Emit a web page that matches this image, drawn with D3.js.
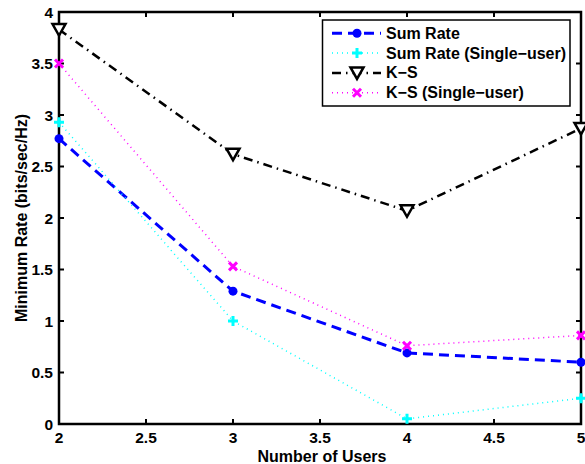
<!DOCTYPE html>
<html><head><meta charset="utf-8">
<script src="https://cdn.jsdelivr.net/npm/d3@7"></script>
<style>body{margin:0;background:#fff;}svg{display:block;font-family:"Liberation Sans",Arial,sans-serif;font-weight:bold;}</style>
</head><body>
<script>
const users = [2, 3, 4, 5];
const sumRate = [2.77, 1.29, 0.69, 0.60];
const sumRateSingle = [2.93, 1.00, 0.05, 0.25];
const ks = [3.83, 2.62, 2.07, 2.87];
const ksSingle = [3.50, 1.53, 0.76, 0.86];
const xTicks = [2, 2.5, 3, 3.5, 4, 4.5, 5];
const yTicks = [0, 0.5, 1, 1.5, 2, 2.5, 3, 3.5, 4];
const seriesNames = ["Sum Rate", "Sum Rate (Single\u2212user)", "K\u2212S", "K\u2212S (Single\u2212user)"];

const W = 585, H = 464;
const L = 59, R = 581, T = 12, B = 424;
const svg = d3.select("body").append("svg").attr("width", W).attr("height", H);
const x = d3.scaleLinear().domain([2, 5]).range([L, R]);
const y = d3.scaleLinear().domain([0, 4]).range([B, T]);

const series = [
  {name: seriesNames[0], vals: sumRate, color: "#0000ff", width: 3, dash: "10,6", marker: "circle"},
  {name: seriesNames[1], vals: sumRateSingle, color: "#00ffff", width: 1.5, dash: "1,4", marker: "plus"},
  {name: seriesNames[2], vals: ks, color: "#000000", width: 2.5, dash: "9,5,1.5,5", marker: "tri"},
  {name: seriesNames[3], vals: ksSingle, color: "#ff00ff", width: 1.5, dash: "1,4", marker: "x"}
];

const tl = 5;
const g = svg.append("g");
xTicks.forEach(t => {
  g.append("line").attr("x1", x(t)).attr("x2", x(t)).attr("y1", B).attr("y2", B - tl).attr("stroke", "#000").attr("stroke-width", 2);
  g.append("line").attr("x1", x(t)).attr("x2", x(t)).attr("y1", T).attr("y2", T + tl).attr("stroke", "#000").attr("stroke-width", 2);
  g.append("text").attr("x", x(t)).attr("y", 443).attr("text-anchor", "middle").attr("font-size", 15.5).text(t);
});
yTicks.forEach(t => {
  g.append("line").attr("x1", L).attr("x2", L + tl).attr("y1", y(t)).attr("y2", y(t)).attr("stroke", "#000").attr("stroke-width", 2);
  g.append("line").attr("x1", R).attr("x2", R - tl).attr("y1", y(t)).attr("y2", y(t)).attr("stroke", "#000").attr("stroke-width", 2);
  g.append("text").attr("x", L - 6).attr("y", y(t) + 5.5).attr("text-anchor", "end").attr("font-size", 15.5).text(t);
});
g.append("rect").attr("x", L).attr("y", T).attr("width", R - L).attr("height", B - T).attr("fill", "none").attr("stroke", "#000").attr("stroke-width", 2.5);

svg.append("text").attr("x", 322).attr("y", 461.5).attr("text-anchor", "middle").attr("font-size", 16).text("Number of Users");
svg.append("text").attr("transform", `translate(27,${(T + B) / 2}) rotate(-90)`).attr("text-anchor", "middle").attr("font-size", 16).text("Minimum Rate (bits/sec/Hz)");

function drawMarker(sel, type, color, cx, cy) {
  if (type === "circle") sel.append("circle").attr("cx", cx).attr("cy", cy).attr("r", 4.5).attr("fill", color);
  else if (type === "plus") sel.append("path").attr("d", `M${cx-5},${cy}H${cx+5}M${cx},${cy-5}V${cy+5}`).attr("stroke", color).attr("stroke-width", 3);
  else if (type === "x") sel.append("path").attr("d", `M${cx-4},${cy-4}L${cx+4},${cy+4}M${cx+4},${cy-4}L${cx-4},${cy+4}`).attr("stroke", color).attr("stroke-width", 3);
  else if (type === "tri") sel.append("path").attr("d", `M${cx-6.5},${cy-5.5}L${cx+6.5},${cy-5.5}L${cx},${cy+6}Z`).attr("stroke", color).attr("stroke-width", 2.5).attr("fill", "#fff").attr("stroke-linejoin", "miter");
}

const line = d3.line().x((d, i) => x(users[i])).y(d => y(d));
series.forEach(s => {
  svg.append("path").datum(s.vals).attr("d", line).attr("fill", "none").attr("stroke", s.color)
    .attr("stroke-width", s.width).attr("stroke-dasharray", s.dash);
});
series.forEach(s => {
  s.vals.forEach((v, i) => drawMarker(svg, s.marker, s.color, x(users[i]), y(v)));
});

const lg = svg.append("g");
const lx = 322.5, ly = 20, lw = 247.5, lh = 86;
lg.append("rect").attr("x", lx).attr("y", ly).attr("width", lw).attr("height", lh).attr("fill", "#fff").attr("stroke", "#000").attr("stroke-width", 1.5);
series.forEach((s, i) => {
  const yy = 33.3 + i * 19.8;
  lg.append("line").attr("x1", 332).attr("x2", 381).attr("y1", yy).attr("y2", yy).attr("stroke", s.color)
    .attr("stroke-width", s.width).attr("stroke-dasharray", s.dash);
  drawMarker(lg, s.marker, s.color, 357, yy);
  lg.append("text").attr("x", 386).attr("y", yy + 5.5).attr("font-size", 16).text(s.name);
});
</script>
</body></html>
